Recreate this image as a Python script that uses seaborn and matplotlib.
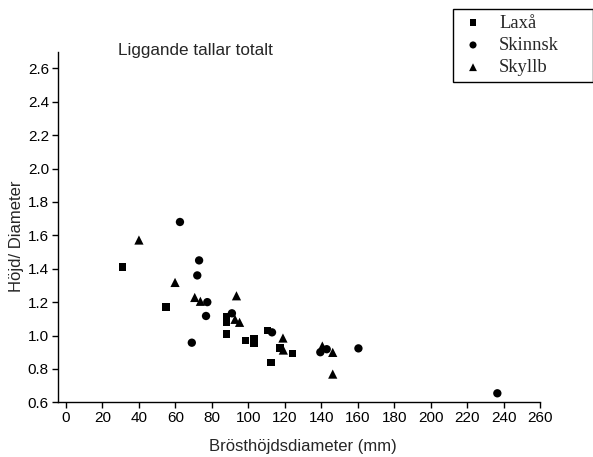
import matplotlib
matplotlib.use("Agg")
import matplotlib.pyplot as plt
import seaborn as sns
import pandas as pd

site_names = ["Laxå", "Skinnsk", "Skyllb"]

laxa_x = [31, 55, 88, 88, 88, 98.5, 103, 103, 110.5, 117.5, 124.3, 112.5]
laxa_y = [1.41, 1.17, 1.11, 1.08, 1.01, 0.97, 0.98, 0.955, 1.03, 0.925, 0.893, 0.838]

skinnsk_x = [62.5, 73, 72, 77.5, 76.8, 91, 69, 113, 139.5, 143, 160.4, 236.6]
skinnsk_y = [1.68, 1.45, 1.36, 1.20, 1.117, 1.133, 0.957, 1.019, 0.90, 0.918, 0.923, 0.654]

skyllb_x = [40, 59.8, 70.6, 73.7, 93.5, 92.7, 95.2, 119, 119.2, 140.6, 146.3, 146.3]
skyllb_y = [1.572, 1.318, 1.228, 1.205, 1.238, 1.097, 1.079, 0.985, 0.913, 0.937, 0.899, 0.769]

x_ticks = list(range(0, 261, 20))
y_ticks = [0.6, 0.8, 1.0, 1.2, 1.4, 1.6, 1.8, 2.0, 2.2, 2.4, 2.6]

frames = []
for name, xs, ys in zip(site_names, [laxa_x, skinnsk_x, skyllb_x], [laxa_y, skinnsk_y, skyllb_y]):
    frames.append(pd.DataFrame({"x": xs, "y": ys, "site": name}))
df = pd.concat(frames, ignore_index=True)

sns.set_style("white")
plt.rcParams['font.family'] = ['Liberation Sans', 'DejaVu Sans']

fig = plt.figure(figsize=(5.93, 4.57), dpi=100)
ax = fig.add_axes([58/593, 1 - 402.3/457, (540 - 58)/593, (402.3 - 51.7)/457])

markers = {"Laxå": "s", "Skinnsk": "o", "Skyllb": "^"}
sizes = {"Laxå": 30, "Skinnsk": 36, "Skyllb": 44}
for name in site_names:
    sub = df[df["site"] == name]
    sns.scatterplot(data=sub, x="x", y="y", marker=markers[name], color="black",
                    s=sizes[name], edgecolor="none", linewidth=0, ax=ax, label=name, legend=False)

ax.set_xlim(-4.4, 260)
ax.set_ylim(0.6, 2.7)
ax.set_xticks(x_ticks)
ax.set_xticklabels([str(t) for t in x_ticks])
ax.set_yticks(y_ticks)
ax.set_yticklabels([f"{t:.1f}" for t in y_ticks])
ax.set_xlabel("")
ax.set_ylabel("")
for s in ["top", "right"]:
    ax.spines[s].set_visible(False)
for s in ["left", "bottom"]:
    ax.spines[s].set_color("black")
    ax.spines[s].set_linewidth(1.0)
ax.tick_params(axis="both", direction="out", length=4.5, width=1.0, color="black",
               labelsize=11, labelcolor="black", pad=2)
ax.xaxis.set_ticks_position("bottom")
ax.yaxis.set_ticks_position("left")

fig.text(118/593, 1 - 51/457, "Liggande tallar totalt", ha="left", va="center", fontsize=12.3)
fig.text(17/593, 1 - 236.5/457, "Höjd/ Diameter", ha="center", va="center", rotation=90, fontsize=12)
fig.text(303/593, 1 - 446/457, "Brösthöjdsdiameter (mm)", ha="center", va="center", fontsize=12)

handles, labels = ax.get_legend_handles_labels()
leg = fig.legend(handles, labels, loc="upper left",
                 bbox_to_anchor=(453/593, 1 - 80/457, 140/593, 71/457), mode="expand",
                 frameon=True, fancybox=False, edgecolor="black", framealpha=1,
                 prop={"family": "Liberation Serif", "size": 13.4},
                 handletextpad=0.63, labelspacing=0.28, borderpad=0.3, markerscale=0.85,
                 handlelength=1.55, borderaxespad=0)
leg.get_frame().set_linewidth(1.0)
fig.savefig("out.png", dpi=100)
